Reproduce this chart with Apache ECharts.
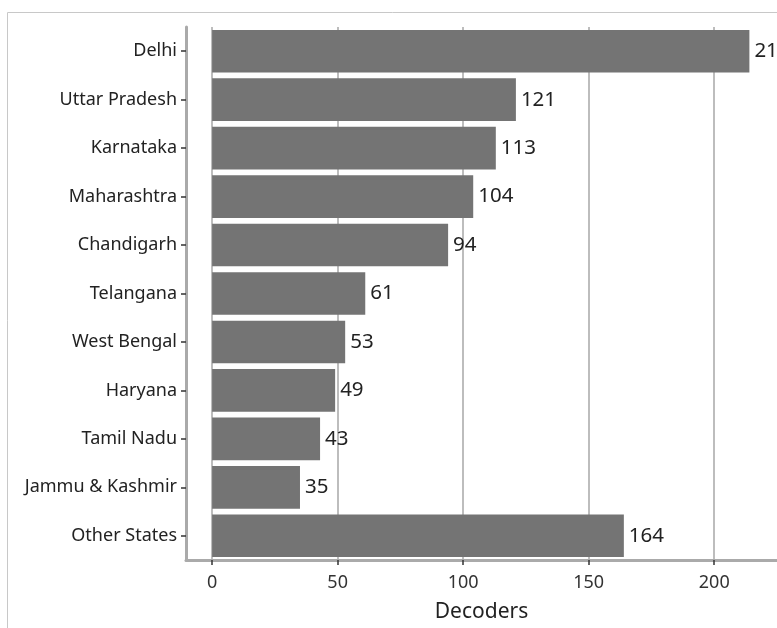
<!DOCTYPE html>
<html>
<head>
<meta charset="utf-8">
<script src="https://cdn.jsdelivr.net/npm/echarts@6/dist/echarts.min.js"></script>
<style>
  html, body { margin: 0; padding: 0; background: #fff; }
  #chart { width: 777px; height: 628px; }
</style>
</head>
<body>
<div id="chart"></div>
<script>
// top to bottom as in the picture
const states = ['Delhi', 'Uttar Pradesh', 'Karnataka', 'Maharashtra', 'Chandigarh', 'Telangana',
    'West Bengal', 'Haryana', 'Tamil Nadu', 'Jammu & Kashmir', 'Other States'];
const decoders = [214, 121, 113, 104, 94, 61, 53, 49, 43, 35, 164];
const xTicks = [0, 50, 100, 150, 200];

let myChart = echarts.init(document.getElementById('chart'));
let option = {
    animation: false,
    graphic: [{
        type: 'rect',
        shape: { x: 7.5, y: 12.5, width: 820, height: 700 },
        style: { fill: 'none', stroke: '#c8c8c8', lineWidth: 1 },
        silent: true
    }],
    grid: {
        left: 186,
        right: 0,
        top: 27,
        bottom: 66
    },
    xAxis: {
        type: 'value',
        min: -10.4,
        max: 225,
        name: 'Decoders',
        nameLocation: 'middle',
        nameGap: 42,
        nameTextStyle: {
            color: '#222',
            fontSize: 21,
            fontFamily: 'Noto Sans'
        },
        axisLine: {
            show: true,
            onZero: false,
            lineStyle: { color: '#aaa', width: 3 }
        },
        axisTick: {
            show: true,
            customValues: xTicks,
            length: 5,
            lineStyle: { color: '#333', width: 1.5 }
        },
        axisLabel: {
            customValues: xTicks,
            color: '#333',
            fontSize: 18,
            fontFamily: 'Noto Sans',
            margin: 14
        },
        splitLine: {
            show: true,
            lineStyle: { color: '#bdbdbd', width: 2 }
        }
    },
    yAxis: {
        type: 'category',
        inverse: true,
        data: states,
        axisLine: {
            show: true,
            onZero: false,
            lineStyle: { color: '#aaa', width: 3 }
        },
        axisTick: {
            show: true,
            alignWithLabel: true,
            length: 5,
            lineStyle: { color: '#333', width: 1.5 }
        },
        axisLabel: {
            color: '#222',
            fontSize: 18,
            fontFamily: 'Noto Sans',
            margin: 9
        },
        splitLine: { show: false }
    },
    series: [{
        type: 'bar',
        data: decoders,
        barCategoryGap: '12%',
        itemStyle: {
            color: '#747474'
        },
        label: {
            show: true,
            position: 'right',
            distance: 5,
            color: '#222',
            fontSize: 20.5,
            fontFamily: 'Noto Sans'
        }
    }]
};
myChart.setOption(option);
</script>
</body>
</html>
